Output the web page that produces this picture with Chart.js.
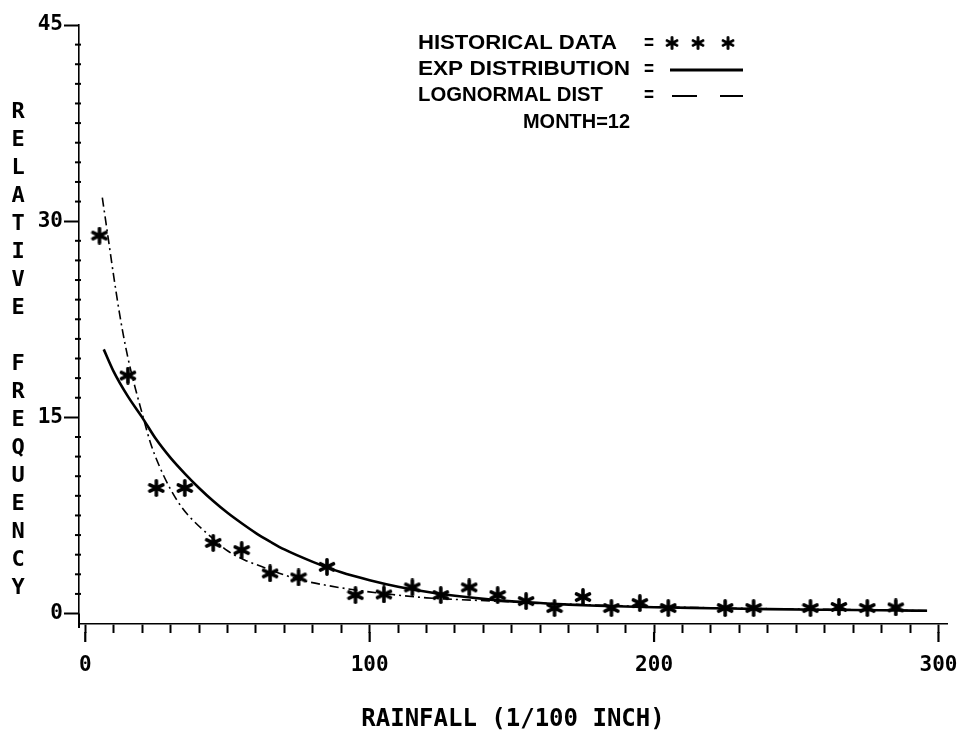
<!DOCTYPE html>
<html><head><meta charset="utf-8">
<script src="https://cdn.jsdelivr.net/npm/chart.js@4/dist/chart.umd.min.js"></script>
<style>html,body{margin:0;padding:0;background:#fff;}#wrap{width:964px;height:738px;}</style>
</head><body><div id="wrap"><canvas id="c" width="964" height="738"></canvas></div>
<script>
// ---- data ----
const histX = [5,15,25,35,45,55,65,75,85,95,105,115,125,135,145,155,165,175,185,195,205,225,235,255,265,275,285];
const histY = [28.9,18.2,9.6,9.6,5.4,4.85,3.07,2.76,3.57,1.41,1.46,2.0,1.41,2.0,1.41,0.95,0.42,1.26,0.42,0.8,0.42,0.42,0.42,0.42,0.5,0.42,0.47];

const expX = [6.5,10,15,20,25,30,35,40,45,50,55,60,65,70,80,90,100,110,120,130,140,150,160,170,180,190,200,220,240,260,280,296];
const expY = [20.2,18.5,16.6,15.0,13.3,11.9,10.7,9.6,8.6,7.7,6.9,6.15,5.5,4.9,3.95,3.15,2.55,2.05,1.66,1.36,1.12,0.93,0.8,0.68,0.6,0.54,0.48,0.41,0.34,0.29,0.25,0.21];

const logX = [6,8,10,12,14,16,18,20,23,26,30,34,38,44,50,56,62,70,76,85,95,108,120,132,144,160,180,200,220,240,260,280,296];
const logY = [31.8,28.8,25.8,23.0,20.6,18.6,16.9,15.3,13.0,11.3,9.5,8.1,7.1,5.9,4.8,4.1,3.6,2.95,2.55,2.15,1.8,1.45,1.2,1.06,0.95,0.8,0.65,0.52,0.44,0.37,0.32,0.27,0.22];

const xTickLabels = [0,100,200,300];
const yTickLabels = [0,15,30,45];
const legendLabels = ['HISTORICAL DATA','EXP DISTRIBUTION','LOGNORMAL DIST'];
const legendNote = 'MONTH=12';
const xTitle = 'RAINFALL (1/100 INCH)';
const yTitle = 'RELATIVE FREQUENCY';

// ---- helpers ----
const pts = (xs, ys) => xs.map((x, i) => ({x: x, y: ys[i]}));
const MONO = "'DejaVu Sans Mono', 'Liberation Mono', monospace";
const SANS = "'Liberation Sans', 'DejaVu Sans', sans-serif";

function makeAsterisk(size, lw) {
  const c = document.createElement('canvas');
  c.width = size; c.height = size;
  const g = c.getContext('2d');
  g.strokeStyle = '#000'; g.lineWidth = lw; g.lineCap = 'round';
  const m = size / 2, r = size / 2 - lw / 2;
  [90, 25, 155].forEach(a => {
    const t = a * Math.PI / 180;
    g.beginPath();
    g.moveTo(m - r * Math.cos(t), m - r * Math.sin(t));
    g.lineTo(m + r * Math.cos(t), m + r * Math.sin(t));
    g.stroke();
  });
  return c;
}
const star = makeAsterisk(18, 3.6);

function fitText(ctx, text, x, y, w, font) {
  ctx.save();
  ctx.font = font;
  const m = ctx.measureText(text).width;
  ctx.translate(x, y);
  ctx.scale(w / m, 1);
  ctx.textAlign = 'left';
  ctx.textBaseline = 'middle';
  ctx.fillText(text, 0, 0);
  ctx.restore();
}

const decor = {
  id: 'decor',
  afterDraw(chart) {
    const ctx = chart.ctx, xs = chart.scales.x, ys = chart.scales.y, a = chart.chartArea;
    ctx.save();
    ctx.strokeStyle = '#000'; ctx.fillStyle = '#000';
    // y minor tick marks (small crosses on the axis)
    ctx.lineWidth = 2;
    for (let i = 0; i <= 30; i++) {
      const v = i * 1.5;
      if (Math.abs(v % 15) < 1e-6) continue;
      const py = ys.getPixelForValue(v);
      ctx.beginPath(); ctx.moveTo(a.left - 4, py); ctx.lineTo(a.left + 2, py); ctx.stroke();
    }
    // x major ticks are longer
    ctx.lineWidth = 2.2;
    xTickLabels.forEach(v => {
      const px = xs.getPixelForValue(v);
      ctx.beginPath(); ctx.moveTo(px, a.bottom + 8); ctx.lineTo(px, a.bottom + 18); ctx.stroke();
    });
    // corner hook
    ctx.lineWidth = 2;
    ctx.beginPath(); ctx.moveTo(a.left, ys.getPixelForValue(0)); ctx.lineTo(a.left, a.bottom + 4); ctx.stroke();

    // y title: stacked letters
    ctx.font = "bold 22px " + MONO;
    ctx.textAlign = 'center'; ctx.textBaseline = 'middle';
    [...yTitle].forEach((ch, i) => { if (ch !== ' ') ctx.fillText(ch, 18, 112 + i * 28.0); });

    // legend block
    const lf = "bold 21px " + SANS;
    fitText(ctx, legendLabels[0], 418, 43, 199, lf);
    fitText(ctx, legendLabels[1], 418, 69, 212, lf);
    fitText(ctx, legendLabels[2], 418, 95, 185, lf);
    fitText(ctx, legendNote, 523, 122, 107, lf);
    [43, 69, 95].forEach(y => fitText(ctx, '=', 644, y, 10, lf));
    [672, 698, 728].forEach(x => ctx.drawImage(star, x - 7, 43 - 7, 14, 14));
    ctx.lineWidth = 3;
    ctx.beginPath(); ctx.moveTo(670, 70); ctx.lineTo(743, 70); ctx.stroke();
    ctx.lineWidth = 1.8;
    ctx.beginPath(); ctx.moveTo(672, 96); ctx.lineTo(697, 96); ctx.moveTo(720, 96); ctx.lineTo(743, 96); ctx.stroke();
    ctx.restore();
  }
};

new Chart(document.getElementById('c'), {
  type: 'scatter',
  data: {
    datasets: [
      { label: legendLabels[0], data: pts(histX, histY), pointStyle: star, pointRadius: 8, pointHoverRadius: 8, showLine: false, borderColor: '#000', backgroundColor: '#000' },
      { label: legendLabels[1], data: pts(expX, expY), showLine: true, pointRadius: 0, borderColor: '#000', borderWidth: 2.6, fill: false, cubicInterpolationMode: 'monotone' },
      { label: legendLabels[2], data: pts(logX, logY), showLine: true, pointRadius: 0, borderColor: '#000', borderWidth: 1.6, borderDash: [9, 4, 2, 4], fill: false, cubicInterpolationMode: 'monotone' }
    ]
  },
  options: {
    responsive: false, animation: false, devicePixelRatio: 1,
    layout: { padding: { left: 0, top: 25, right: 17, bottom: 0 } },
    plugins: { legend: { display: false }, tooltip: { enabled: false } },
    scales: {
      x: {
        type: 'linear', min: -2.2, max: 303,
        afterBuildTicks: s => { const t = []; for (let v = 0; v <= 300; v += 10) t.push({value: v}); s.ticks = t; },
        afterFit: s => { s.height = 114; s.paddingLeft = 0; s.paddingRight = 0; },
        ticks: { autoSkip: false, maxRotation: 0, minRotation: 0, padding: 20, color: '#000',
                 font: { family: MONO, size: 21, weight: 'bold' },
                 callback: v => xTickLabels.includes(v) ? String(v) : '' },
        grid: { drawOnChartArea: false, tickLength: 9, tickWidth: 2, tickColor: '#000' },
        border: { color: '#000', width: 1.6, dash: [6, 2] },
        title: { display: true, text: xTitle, color: '#000', font: { family: MONO, size: 24, weight: 'bold' }, padding: { top: 0, bottom: 4 } }
      },
      y: {
        type: 'linear', min: -0.8, max: 45,
        afterBuildTicks: s => { const t = []; for (let i = 0; i <= 30; i++) t.push({value: i * 1.5}); s.ticks = t; },
        afterFit: s => { s.width = 79; },
        ticks: { autoSkip: false, padding: 1, color: '#000',
                 font: { family: MONO, size: 21, weight: 'bold' },
                 callback: v => yTickLabels.some(l => Math.abs(l - v) < 1e-6) ? String(Math.round(v)) : '' },
        grid: { drawOnChartArea: false, tickLength: 15, tickWidth: 2,
                tickColor: c => (c.tick && yTickLabels.some(l => Math.abs(l - c.tick.value) < 1e-6)) ? '#000' : 'rgba(0,0,0,0)' },
        border: { color: '#000', width: 1.6, dash: [3, 3] }
      }
    }
  },
  plugins: [decor]
});
</script>
</body></html>
